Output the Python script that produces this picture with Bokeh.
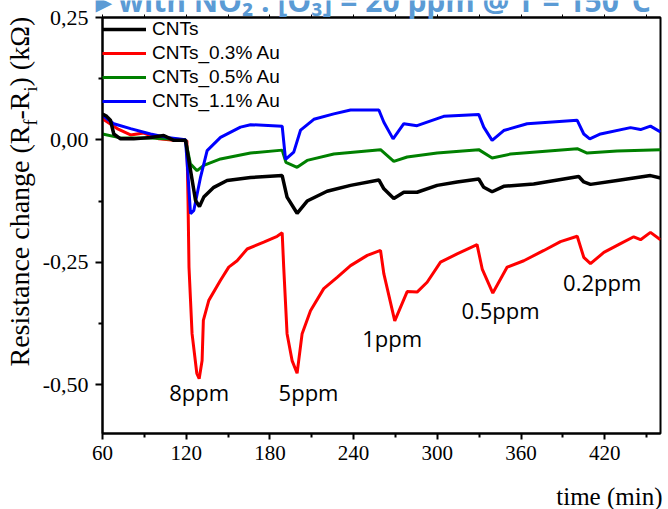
import numpy as np
from bokeh.plotting import figure
from bokeh.models import (Range1d, FixedTicker, LinearAxis, Legend, LegendItem,
                          ColumnDataSource, GridBox)
from bokeh.embed import file_html
from bokeh.resources import INLINE
from bokeh.core.properties import value

# ---------------- data ----------------
t_cnt = [60, 63, 65.7, 68.1, 72.9, 82.4, 94.4, 103.9, 111.1, 119.5, 121.9, 126.7, 129.5, 132.6,
         139.8, 149.3, 166.1, 188.8, 192.3, 199.5, 206.7, 221, 237.8, 258.1, 261.7, 268.8, 276,
         285.5, 299.9, 314.2, 329.7, 333.3, 339.3, 347.6, 369.1, 401.4, 405, 409.8, 428.9,
         452.8, 460]
v_cnt = [0.053, 0.048, 0.04, 0.012, 0.002, 0.002, 0.005, 0.009, -0.001, -0.001, -0.042, -0.124,
         -0.136, -0.117, -0.097, -0.083, -0.077, -0.073, -0.117, -0.15, -0.125, -0.105, -0.093,
         -0.082, -0.1, -0.12, -0.107, -0.107, -0.093, -0.086, -0.08, -0.097, -0.106, -0.095,
         -0.09, -0.075, -0.086, -0.091, -0.083, -0.073, -0.078]

t_au03 = [60, 70.5, 80.1, 89.6, 100.4, 111.1, 120.5, 121.3, 122.0, 124.2, 127.6, 129.3, 131.4,
          132.3, 136.2, 144.6, 150.5, 156.5, 163.7, 175.6, 185.2, 188.8, 189.9, 192.3, 195.9,
          199.5, 203.1, 209.1, 218.6, 228.2, 237.8, 249.8, 259.3, 261.7, 269.5, 278.4, 285.5,
          292.7, 302.3, 314.2, 328.5, 332.2, 339.8, 350.1, 362, 376.4, 388.3, 400.3, 405,
          409.8, 419.4, 431.3, 440.8, 445.7, 452.8, 460]
v_au03 = [0.043, 0.023, 0.01, 0.014, 0.002, -0.001, -0.002, -0.124, -0.26, -0.396, -0.477,
          -0.488, -0.451, -0.369, -0.328, -0.287, -0.26, -0.247, -0.223, -0.209, -0.197, -0.19,
          -0.26, -0.396, -0.451, -0.477, -0.396, -0.349, -0.304, -0.281, -0.257, -0.236, -0.226,
          -0.274, -0.37, -0.31, -0.311, -0.291, -0.25, -0.233, -0.214, -0.264, -0.313, -0.26,
          -0.247, -0.226, -0.208, -0.197, -0.24, -0.253, -0.23, -0.212, -0.198, -0.204, -0.189,
          -0.204]

t_au05 = [60, 72.9, 94.4, 119.5, 123, 127.8, 132.6, 144.6, 166.1, 188.8, 191.5, 199.5, 206.7,
          225.8, 259.3, 268.8, 278.4, 299.9, 329.7, 339.3, 352.5, 400.3, 407.4, 428.9, 460]
v_au05 = [0.012, 0.004, 0.004, 0.0, -0.049, -0.063, -0.052, -0.039, -0.027, -0.021, -0.046,
          -0.056, -0.042, -0.029, -0.02, -0.044, -0.035, -0.027, -0.02, -0.037, -0.029, -0.018,
          -0.027, -0.023, -0.02]

t_au11 = [60, 68.1, 80.1, 94.4, 106.3, 119.5, 121, 123.1, 125.5, 130.3, 135, 144.6, 158.9,
          166.1, 188.8, 191.2, 197.1, 202, 211.5, 225.8, 237.8, 258.1, 261.7, 268.3, 276, 285.5,
          304.6, 329.7, 333.3, 339.3, 347.6, 364.4, 400.3, 405, 409.3, 417, 438.5, 445.7,
          452.8, 460]
v_au11 = [0.05, 0.033, 0.023, 0.012, 0.005, 0.0, -0.06, -0.151, -0.144, -0.076, -0.022, 0.005,
          0.026, 0.031, 0.028, -0.04, -0.025, 0.02, 0.042, 0.053, 0.061, 0.061, 0.036, 0.002,
          0.033, 0.029, 0.048, 0.052, 0.026, -0.001, 0.019, 0.033, 0.04, 0.012, 0.002, 0.012,
          0.025, 0.021, 0.028, 0.016]

series_names = ["CNTs", "CNTs_0.3% Au", "CNTs_0.5% Au", "CNTs_1.1% Au"]

ppm_labels = ["8ppm", "5ppm", "1ppm", "0.5ppm", "0.2ppm"]
ppm_t = [129.3, 207.7, 267.6, 345.3, 418.2]
ppm_v = [-0.515, -0.515, -0.404, -0.347, -0.291]

x_ticks = [60, 120, 180, 240, 300, 360, 420]
x_minor = [90, 150, 210, 270, 330, 390, 450]
y_ticks = [0.25, 0.0, -0.25, -0.5]
y_tick_labels = ["0,25", "0,00", "-0,25", "-0,50"]
y_minor = [0.125, -0.125, -0.375]

x_title = "time (min)"
y_title_parts = ["Resistance change (R", "f", "-R", "i", ") (kΩ)"]
heading = "▸ with NO₂ : [O₃] = 20 ppm @ T = 150°C"

# ---------------- layout ----------------
W, H = 668, 509
FL, FR, FT, FB = 102, 660, 17, 433
X0, X1 = 60, 460
Y0, Y1 = -0.6, 0.25
MID = 0.33  # distance (in em) from the baseline up to the 'middle' anchor

p = figure(width=W, height=H, x_range=Range1d(X0, X1), y_range=Range1d(Y0, Y1),
           output_backend="svg", toolbar_location=None, title=None,
           min_border_left=FL, min_border_right=W - FR, min_border_top=FT,
           min_border_bottom=H - FB)
p.xgrid.visible = False
p.ygrid.visible = False
p.outline_line_color = "black"
p.outline_line_width = 2
p.background_fill_color = "white"
p.border_fill_color = "white"

xa = p.xaxis[0]
xa.ticker = FixedTicker(ticks=x_ticks, minor_ticks=x_minor)
xa.axis_line_width = 2
xa.major_tick_line_width = 2
xa.minor_tick_line_width = 2
xa.major_tick_in = 0
xa.major_tick_out = 6
xa.minor_tick_in = 0
xa.minor_tick_out = 4
xa.major_label_text_font = "Liberation Serif"
xa.major_label_text_font_size = "21px"
xa.major_label_text_color = "black"
xa.major_label_standoff = 6

ya = p.yaxis[0]
ya.ticker = FixedTicker(ticks=y_ticks, minor_ticks=y_minor)
ya.major_label_overrides = {tk: lb for tk, lb in zip(y_ticks, y_tick_labels)}
ya.axis_line_width = 2
ya.major_tick_line_width = 2
ya.minor_tick_line_width = 2
ya.major_tick_in = 0
ya.major_tick_out = 7
ya.minor_tick_in = 0
ya.minor_tick_out = 4
ya.major_label_text_font = "Liberation Serif"
ya.major_label_text_font_size = "22px"
ya.major_label_text_color = "black"
ya.major_label_standoff = 7

# top axis: small outward ticks only (all given as minor ticks, so no labels)
top = LinearAxis(ticker=FixedTicker(ticks=[], minor_ticks=sorted(x_ticks + x_minor)))
top.axis_line_width = 2
top.minor_tick_in = 0
top.minor_tick_out = 3
top.minor_tick_line_width = 1
p.add_layout(top, "above")

r_red = p.line(t_au03, v_au03, line_color="#ff0000", line_width=3)
r_green = p.line(t_au05, v_au05, line_color="#008000", line_width=3)
r_blue = p.line(t_au11, v_au11, line_color="#0000ff", line_width=3)
r_black = p.line(t_cnt, v_cnt, line_color="black", line_width=3.5)

legend = Legend(items=[LegendItem(label=series_names[0], renderers=[r_black]),
                       LegendItem(label=series_names[1], renderers=[r_red]),
                       LegendItem(label=series_names[2], renderers=[r_green]),
                       LegendItem(label=series_names[3], renderers=[r_blue])],
                location="top_left", margin=0, padding=0, spacing=0,
                glyph_width=44, glyph_height=24, label_height=24, label_standoff=6,
                label_text_font="Liberation Sans", label_text_font_size="19px",
                label_text_color="black", label_text_baseline="middle",
                background_fill_alpha=0, border_line_alpha=0)
p.add_layout(legend)

src = ColumnDataSource(dict(x=ppm_t, y=ppm_v, text=ppm_labels))
p.text(x="x", y="y", text="text", source=src, text_font=value("Open Sans"),
       text_font_size="22px", text_align="center", text_baseline="middle",
       text_color="black")

# ---------------- transparent overlay for texts outside the plot frame ----------------
q = figure(frame_width=W, frame_height=H, x_range=Range1d(0, W), y_range=Range1d(0, H),
           output_backend="svg", toolbar_location=None, title=None,
           x_axis_location=None, y_axis_location=None, min_border=0)
q.outline_line_color = None
q.background_fill_color = None
q.border_fill_color = None
q.grid.visible = False
if "frame_align" in q.properties():
    q.frame_align = False
    p.frame_align = False


def up(py):
    return H - py


# x axis title: baseline at y=504 px
xfs = 25
q.text(x=[662], y=[up(504 - MID * xfs)], text=[x_title], text_align="right",
       text_baseline="middle", text_font=value("Liberation Serif"),
       text_font_size=f"{xfs}px", text_color="black")

# y axis title (rotated, subscripts lowered towards the axis)
big, small = 28, 18
sizes = [big, small, big, small, big]
base_cols = [28.5, 36, 28.5, 36, 28.5]      # baseline columns in px
em_widths = [8.609, 0.333, 1.0, 0.278, 2.517]
py = 366
for txt, fs, bx, ew in zip(y_title_parts, sizes, base_cols, em_widths):
    q.text(x=[bx - MID * fs], y=[up(py)], text=[txt], angle=np.pi / 2, text_align="left",
           text_baseline="middle", text_font=value("Liberation Serif"),
           text_font_size=f"{fs}px", text_color="black")
    py -= ew * fs

# heading, cropped at the top edge as in the picture (baseline at y=10 px)
hfs = 30
q.text(x=[95], y=[up(10 - MID * hfs)], text=[heading], text_align="left",
       text_baseline="middle", text_font=value("Open Sans"), text_font_style="bold",
       text_font_size=f"{hfs}px", text_color="#5b9bd5")

layout = GridBox(children=[(p, 0, 0), (q, 0, 0)])
open("out.html", "w").write(file_html(layout, INLINE))
